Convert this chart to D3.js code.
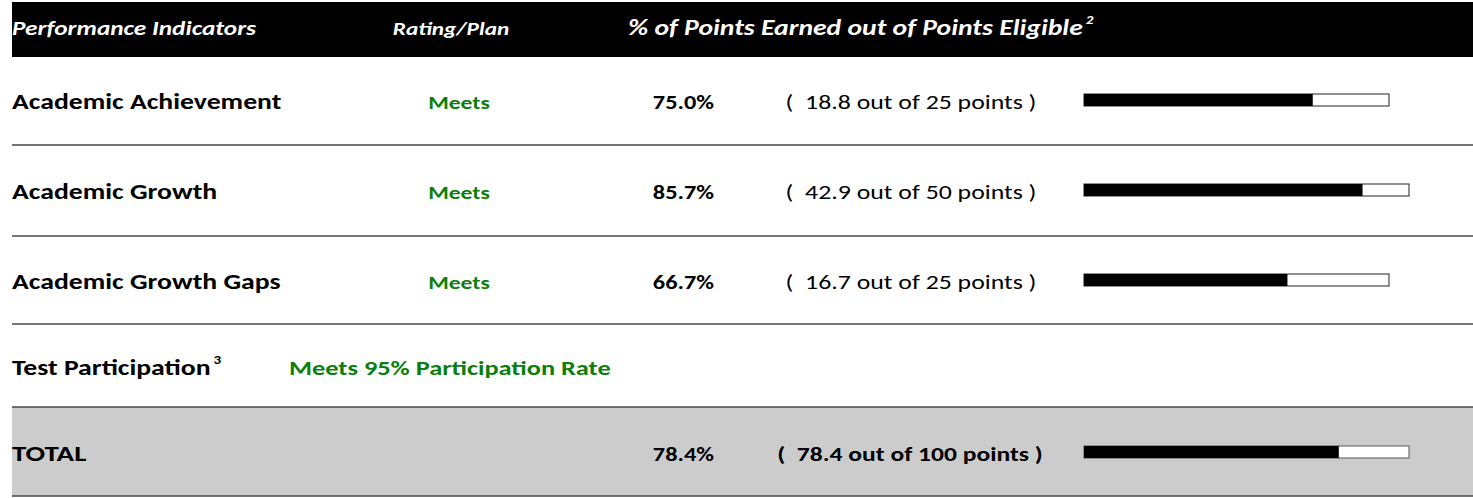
<!DOCTYPE html>
<html>
<head>
<meta charset="utf-8" />
<title>Performance Indicators</title>
<script src="https://cdn.jsdelivr.net/npm/d3@7"></script>
<style>
  body { margin: 0; background: #fff; }
  svg text { font-family: Carlito, Calibri, Lato, sans-serif; white-space: pre; }
</style>
</head>
<body>
<div id="chart"></div>
<script>

// data
var indicators = ['Academic Achievement', 'Academic Growth', 'Academic Growth Gaps'];
var ratings = ['Meets', 'Meets', 'Meets'];
var pctEarned = [75.0, 85.7, 66.7];
var pointsEarned = [18.8, 42.9, 16.7];
var pointsEligible = [25, 50, 25];
var participationLabel = 'Test Participation';
var participationRating = 'Meets 95% Participation Rate';
var totalPct = 78.4, totalEarned = 78.4, totalEligible = 100;
var headers = ['Performance Indicators', 'Rating/Plan', '% of Points Earned out of Points Eligible'];

var w = 1473, h = 498;
var green = '#0a800a';
var sx = 1.26;   // the original text is drawn wide
var base = 9;    // baseline below row centre

var svg = d3.select('#chart').append('svg')
  .attr('width', w)
  .attr('height', h);

// put a text at x,y with the horizontal stretch
function place(sel, x, y) {
  return sel.attr('transform', function(d, i) {
    var xx = typeof x == 'function' ? x(d, i) : x;
    var yy = typeof y == 'function' ? y(d, i) : y;
    return 'translate(' + xx + ',' + yy + ') scale(' + sx + ',1)';
  });
}

// row centres
var rowY = d3.scalePoint().domain(d3.range(3)).range([100, 280]);
var partY = 366, totalY = 452;

// bar scales
var barX0 = 1084, barH = 12;
var barMax = d3.scaleThreshold().domain([50]).range([305, 325]);
function barScale(eligible) {
  return d3.scaleLinear().domain([0, 100]).range([0, barMax(eligible)]);
}

// header band
svg.append('rect')
  .attr('x', 12).attr('y', 2)
  .attr('width', w - 12).attr('height', 55)
  .attr('fill', '#000');

var headX = [12, 451, 628], headSize = [20.1, 18.5, 22];
var head = svg.selectAll('text.head')
  .data(headers)
  .enter()
  .append('text')
  .attr('class', 'head')
  .attr('text-anchor', function(d, i) { return i == 1 ? 'middle' : 'start'; })
  .attr('fill', '#fff')
  .attr('font-size', function(d, i) { return headSize[i]; })
  .attr('font-weight', 'bold')
  .attr('font-style', 'italic')
  .text(function(d) { return d; });
place(head, function(d, i) { return headX[i]; }, 35);

var hb = head.nodes()[2].getBoundingClientRect();
place(svg.append('text')
  .attr('fill', '#fff').attr('font-size', 12)
  .attr('font-weight', 'bold').attr('font-style', 'italic')
  .text('2'), hb.right + 3, 24);

// total band (grey)
svg.append('rect')
  .attr('x', 12).attr('y', 407)
  .attr('width', w - 12).attr('height', 89)
  .attr('fill', '#cccccc');

// separator lines
var lineY = [145, 236, 324, 407, 496];
svg.selectAll('line.sep')
  .data(lineY)
  .enter()
  .append('line')
  .attr('class', 'sep')
  .attr('x1', 12).attr('x2', w)
  .attr('y1', function(d) { return d; })
  .attr('y2', function(d) { return d; })
  .attr('stroke', '#474747')
  .attr('stroke-width', 1.5);

// indicator rows
var rows = svg.selectAll('g.row')
  .data(indicators)
  .enter()
  .append('g')
  .attr('class', 'row')
  .attr('transform', function(d, i) { return 'translate(0,' + rowY(i) + ')'; });

place(rows.append('text')
  .attr('font-size', 22).attr('font-weight', 'bold')
  .attr('fill', '#000')
  .text(function(d) { return d; }), 12, base);

place(rows.append('text')
  .attr('text-anchor', 'middle')
  .attr('font-size', 18.7).attr('font-weight', 'bold')
  .attr('fill', green)
  .text(function(d, i) { return ratings[i]; }), 459, base);

place(rows.append('text')
  .attr('text-anchor', 'end')
  .attr('font-size', 19.3).attr('font-weight', 'bold')
  .attr('fill', '#000')
  .text(function(d, i) { return d3.format('.1f')(pctEarned[i]) + '%'; }), 714, base);

place(rows.append('text')
  .attr('text-anchor', 'middle')
  .attr('font-size', 20.5)
  .attr('fill', '#000')
  .text(function(d, i) {
    return '(  ' + d3.format('.1f')(pointsEarned[i]) + ' out of ' + pointsEligible[i] + ' points )';
  }), 911, base);

rows.append('rect')
  .attr('x', barX0).attr('y', -barH / 2)
  .attr('width', function(d, i) { return barScale(pointsEligible[i])(100); })
  .attr('height', barH)
  .attr('fill', '#fff')
  .attr('stroke', '#222')
  .attr('stroke-width', 1);

rows.append('rect')
  .attr('x', barX0).attr('y', -barH / 2)
  .attr('width', function(d, i) { return barScale(pointsEligible[i])(pctEarned[i]); })
  .attr('height', barH)
  .attr('fill', '#000');

// test participation
var tp = place(svg.append('text')
  .attr('font-size', 22).attr('font-weight', 'bold')
  .text(participationLabel), 12, partY + base);
var tpb = tp.node().getBoundingClientRect();
place(svg.append('text')
  .attr('font-size', 12).attr('font-weight', 'bold')
  .text('3'), tpb.right + 3, partY - 2);
place(svg.append('text')
  .attr('font-size', 20.9).attr('font-weight', 'bold')
  .attr('fill', green)
  .text(participationRating), 289, partY + base);

// total row
place(svg.append('text')
  .attr('font-size', 23).attr('font-weight', 'bold')
  .text('TOTAL'), 12, totalY + base);
place(svg.append('text')
  .attr('text-anchor', 'end')
  .attr('font-size', 19.3).attr('font-weight', 'bold')
  .text(d3.format('.1f')(totalPct) + '%'), 714, totalY + base);
place(svg.append('text')
  .attr('text-anchor', 'middle')
  .attr('font-size', 20.3).attr('font-weight', 'bold')
  .text('(  ' + d3.format('.1f')(totalEarned) + ' out of ' + totalEligible + ' points )'), 910, totalY + base);

var tScale = barScale(totalEligible);
svg.append('rect')
  .attr('x', barX0).attr('y', totalY - barH / 2)
  .attr('width', tScale(100)).attr('height', barH)
  .attr('fill', '#fff')
  .attr('stroke', '#555').attr('stroke-width', 1);
svg.append('rect')
  .attr('x', barX0).attr('y', totalY - barH / 2)
  .attr('width', tScale(totalPct)).attr('height', barH)
  .attr('fill', '#000');

</script>
</body>
</html>
